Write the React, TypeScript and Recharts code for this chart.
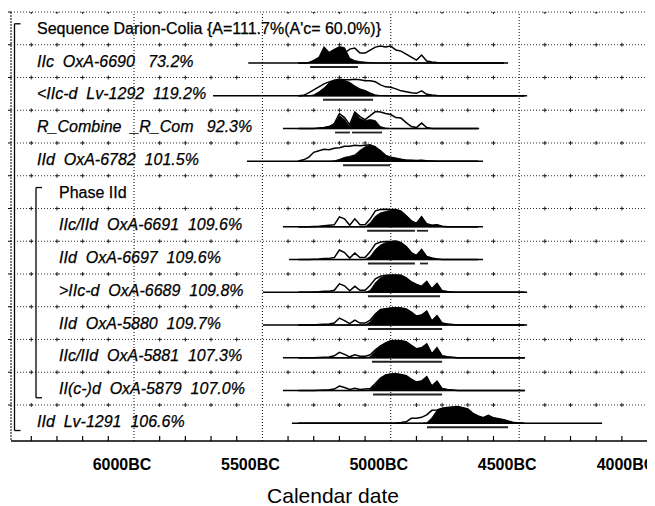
import { Area, ComposedChart, Line, ReferenceLine, Scatter, XAxis, YAxis } from 'recharts';

const CHART_W = 647;
const CHART_H = 498;
const PLOT_W = 644;
const FONT = '"Liberation Sans", Arial, Helvetica, sans-serif';

// calendar axis, negative = BC
const X_MIN = -6479;
const X_MAX = -3971;
const PX_PER_YEAR = PLOT_W / (X_MAX - X_MIN);

const AXIS_YEARS = [
  -6400, -6300, -6200, -6100, -6000, -5900, -5800, -5700, -5600, -5500, -5400, -5300, -5200,
  -5100, -5000, -4900, -4800, -4700, -4600, -4500, -4400, -4300, -4200, -4100, -4000,
];
const MAJOR_YEARS = [-6000, -5500, -5000, -4500, -4000];

// row boundaries, one unit per row, row 0 at the top
const ROW_EDGES = [1, 2, 3, 4, 5, 6, 7, 8, 9, 10, 11, 12, 13];

const ROW_LABELS = [
  "Sequence Darion-Colia {A=111.7%(A'c= 60.0%)}",
  'IIc  OxA-6690   73.2%',
  '<IIc-d  Lv-1292  119.2%',
  'R_Combine  _R_Com   92.3%',
  'IId  OxA-6782  101.5%',
  'Phase IId',
  'IIc/IId  OxA-6691  109.6%',
  'IId  OxA-6697  109.6%',
  '>IIc-d  OxA-6689  109.8%',
  'IId  OxA-5880  109.7%',
  'IIc/IId  OxA-5881  107.3%',
  'II(c-)d  OxA-5879  107.0%',
  'IId  Lv-1291  106.6%',
];
const ROW_DEPTH = [0, 0, 0, 0, 0, 1, 1, 1, 1, 1, 1, 1, 0];
const HEADER_ROWS = [0, 5];

const GROUPS = [
  { first: 0, last: 12, depth: 0 },
  { first: 5, last: 11, depth: 1 },
];

// density grid, years BC
const YEARS_BC = [
  5360, 5340, 5320, 5300, 5280, 5260, 5240, 5220, 5200, 5180, 5160, 5140, 5120, 5100, 5080,
  5060, 5040, 5020, 5000, 4980, 4960, 4940, 4920, 4900, 4880, 4860, 4840, 4820, 4800, 4780,
  4760, 4740, 4720, 4700, 4680, 4660, 4640, 4620, 4600, 4580, 4560, 4540, 4520, 4500, 4480,
];

// posterior (filled) and likelihood (outline) densities, relative scale
const POST_6690 = [0, 0, 0, 3, 6, 16.5, 11, 14, 16.5, 15.5, 5, 2.5, 1.5, 1, 0.5, 0.3, 0, 0, 0, 0, 0, 0, 0, 0, 0, 0, 0, 0, 0, 0, 0, 0, 0, 0, 0, 0, 0, 0, 0, 0, 0, 0, 0, 0, 0];
const LIKE_6690 = [0, 0, 0.5, 2, 4, 6, 7, 8, 9, 10, 14, 15, 10, 10, 13, 16, 17, 16, 17, 13, 12, 9, 6, 3, 8, 2, 1, 0.5, 0.3, 0, 0, 0, 0, 0, 0, 0, 0, 0, 0, 0, 0, 0, 0, 0, 0];

const POST_1292 = [0, 0, 0, 1, 4, 8, 13, 15.5, 16.5, 15.5, 13.5, 10, 7, 5.5, 3, 1, 0.3, 0, 0, 0, 0, 0, 0, 0, 0, 0, 0, 0, 0, 0, 0, 0, 0, 0, 0, 0, 0, 0, 0, 0, 0, 0, 0, 0, 0];
const LIKE_1292 = [0, 0.5, 3, 6, 9, 12, 14, 15.5, 16.5, 16, 16, 16.5, 16, 15, 15, 14, 11, 9, 8.5, 7, 5, 4, 3, 2.5, 5, 1.5, 0.8, 0.3, 0, 0, 0, 0, 0, 0, 0, 0, 0, 0, 0, 0, 0, 0, 0, 0, 0];

const POST_RCOM = [0, 0, 0, 0, 0.3, 1, 2, 4, 13, 9, 2, 16, 10, 8, 9, 8, 2, 0.5, 0, 0, 0, 0, 0, 0, 0, 0, 0, 0, 0, 0, 0, 0, 0, 0, 0, 0, 0, 0, 0, 0, 0, 0, 0, 0, 0];
const LIKE_RCOM = [0, 0, 0, 0, 0.5, 1, 2, 5, 15, 11, 4, 16.5, 12, 9, 13, 17, 16.5, 15, 14, 11, 10.5, 6, 2, 1, 5.5, 1, 0, 0, 0, 0, 0, 0, 0, 0, 0, 0, 0, 0, 0, 0, 0, 0, 0, 0, 0];

const POST_6782 = [0, 0, 0, 0, 0, 0, 0, 0.5, 2, 4, 5, 6.5, 11, 14.5, 16, 15, 10.5, 6, 4, 3, 2, 1.2, 1, 0.8, 1, 0.5, 0.3, 0, 0, 0, 0, 0, 0, 0, 0, 0, 0, 0, 0, 0, 0, 0, 0, 0, 0];
const LIKE_6782 = [0.3, 1.5, 4, 9, 10.5, 12, 11.5, 13, 13.5, 15, 15, 16, 15.5, 16, 16.5, 14, 10.5, 6, 4, 3, 2, 1.2, 1, 0.8, 1, 0.5, 0.3, 0, 0, 0, 0, 0, 0, 0, 0, 0, 0, 0, 0, 0, 0, 0, 0, 0, 0];

const POST_6691 = [0, 0, 0, 0, 0, 0, 0, 0, 0, 0, 0, 0, 0, 0, 4, 10.7, 14, 15.3, 16.7, 17.3, 15.7, 11, 6, 3.5, 10, 3, 1.5, 2, 0.5, 0, 0, 0, 0, 0, 0, 0, 0, 0, 0, 0, 0, 0, 0, 0, 0];
const LIKE_6691 = [0, 0, 0, 0.3, 0.5, 1, 1.5, 2, 10, 8, 1.5, 8, 2, 2, 8, 16, 17.3, 17.5, 17.3, 17.3, 15.7, 11, 6, 3.5, 10, 3, 1.5, 2, 0.5, 0, 0, 0, 0, 0, 0, 0, 0, 0, 0, 0, 0, 0, 0, 0, 0];

const POST_6697 = [0, 0, 0, 0, 0, 0, 0, 0, 0, 0, 0, 0, 0, 0, 3, 10, 14.5, 17, 18, 18.5, 17, 13, 7, 4, 10, 3, 1.5, 0.5, 0, 0, 0, 0, 0, 0, 0, 0, 0, 0, 0, 0, 0, 0, 0, 0, 0];
const LIKE_6697 = [0, 0, 0, 0.3, 0.5, 1, 1.2, 2, 9.5, 7, 1.5, 6.5, 2, 2, 8, 15.5, 17.5, 18, 18, 18.5, 17, 13, 7, 4, 10, 3, 1.5, 0.5, 0, 0, 0, 0, 0, 0, 0, 0, 0, 0, 0, 0, 0, 0, 0, 0, 0];

const POST_6689 = [0, 0, 0, 0, 0, 0, 0, 0, 0, 0, 0, 0, 0, 0, 2, 9.5, 14.5, 16.5, 17.3, 17.3, 17, 14.5, 10.5, 8, 6, 11, 3.5, 9, 1.5, 0.8, 0.3, 0, 0, 0, 0, 0, 0, 0, 0, 0, 0, 0, 0, 0, 0];
const LIKE_6689 = [0, 0, 0, 0.3, 0.5, 1, 1, 2, 8.5, 6.5, 1.5, 6, 2, 2, 7, 13.5, 16, 17, 17.3, 17.3, 17, 14.5, 10.5, 8, 6, 11, 3.5, 9, 1.5, 0.8, 0.3, 0, 0, 0, 0, 0, 0, 0, 0, 0, 0, 0, 0, 0, 0];

const POST_5880 = [0, 0, 0, 0, 0, 0, 0, 0, 0, 0, 0, 0, 0, 0, 3, 10, 15, 16.3, 17, 17.3, 17, 16, 13, 9, 10, 14, 4, 9.5, 2, 1, 0.5, 0, 0, 0, 0, 0, 0, 0, 0, 0, 0, 0, 0, 0, 0];
const LIKE_5880 = [0, 0, 0, 0, 0.5, 0.8, 1, 2, 7, 4.5, 1.5, 5, 2, 2, 5, 11, 15.5, 16.3, 17, 17.3, 17, 16, 13, 9, 10, 14, 4, 9.5, 2, 1, 0.5, 0, 0, 0, 0, 0, 0, 0, 0, 0, 0, 0, 0, 0, 0];

const POST_5881 = [0, 0, 0, 0, 0, 0, 0, 0, 0, 0, 0, 0, 0, 0, 1, 7, 11.5, 15, 17, 17.3, 17, 16, 12.5, 9, 10, 14, 4, 10, 2, 1, 0.5, 0, 0, 0, 0, 0, 0, 0, 0, 0, 0, 0, 0, 0, 0];
const LIKE_5881 = [0, 0, 0, 0, 0.3, 0.5, 0.8, 2, 5.5, 3.5, 1, 3, 1.5, 1.5, 3, 8, 12, 15, 17, 17.3, 17, 16, 12.5, 9, 10, 14, 4, 10, 2, 1, 0.5, 0, 0, 0, 0, 0, 0, 0, 0, 0, 0, 0, 0, 0, 0];

const POST_5879 = [0, 0, 0, 0, 0, 0, 0, 0, 0, 0, 0, 0, 0, 0, 0.8, 6, 12, 15.5, 16.5, 16.7, 16, 14.8, 11.5, 8.5, 9.5, 14, 4.5, 9.5, 2, 1, 0.5, 0, 0, 0, 0, 0, 0, 0, 0, 0, 0, 0, 0, 0, 0];
const LIKE_5879 = [0, 0, 0, 0, 0.3, 0.5, 0.8, 1.5, 4.5, 3, 1, 2.3, 1, 1.5, 2, 7, 12.5, 15.5, 16.5, 16.7, 16, 14.8, 11.5, 8.5, 9.5, 14, 4.5, 9.5, 2, 1, 0.5, 0, 0, 0, 0, 0, 0, 0, 0, 0, 0, 0, 0, 0, 0];

const POST_1291 = [0, 0, 0, 0, 0, 0, 0, 0, 0, 0, 0, 0, 0, 0, 0, 0, 0, 0, 0, 0, 0, 0, 0, 0, 0, 0.5, 5.5, 13, 15, 15.7, 16.3, 16.7, 15.7, 14.3, 10, 7.3, 5.7, 8, 5.5, 4.5, 3.5, 2, 0.7, 0.3, 0];
const LIKE_1291 = [0, 0, 0, 0, 0, 0, 0, 0, 0, 0, 0, 0, 0, 0, 0, 0, 0, 0, 0, 0.3, 0.8, 1.5, 5, 5, 6, 8.5, 13, 13.3, 15, 15.7, 16.3, 16.7, 15.7, 14.3, 10, 7.3, 5.7, 8, 5.5, 4.5, 3.5, 2, 0.7, 0.3, 0];

// calculation span of each date, years BC [from, to]
const SPAN_6690 = [5555, 4543];
const SPAN_1292 = [5692, 4469];
const SPAN_RCOM = [5420, 4656];
const SPAN_6782 = [5560, 4641];
const SPAN_6691 = [5420, 4641];
const SPAN_6697 = [5396, 4641];
const SPAN_6689 = [5498, 4469];
const SPAN_5880 = [5498, 4469];
const SPAN_5881 = [5420, 4477];
const SPAN_5879 = [5420, 4477];
const SPAN_1291 = [5385, 4177];

// 95.4% highest posterior density ranges, years BC
const HPD_6690 = [[5314, 5128]];
const HPD_1292 = [[5264, 5069]];
const HPD_RCOM = [[5217, 5159], [5151, 5034]];
const HPD_6782 = [[5186, 5003]];
const HPD_6691 = [[5092, 4906], [4898, 4855]];
const HPD_6697 = [[5089, 4906], [4886, 4855]];
const HPD_6689 = [[5089, 4808]];
const HPD_5880 = [[5089, 4800]];
const HPD_5881 = [[5073, 4800]];
const HPD_5879 = [[5069, 4800]];
const HPD_1291 = [[4859, 4543]];

const DISTS = [
  { row: 1, post: POST_6690, like: LIKE_6690, span: SPAN_6690, hpd: HPD_6690 },
  { row: 2, post: POST_1292, like: LIKE_1292, span: SPAN_1292, hpd: HPD_1292 },
  { row: 3, post: POST_RCOM, like: LIKE_RCOM, span: SPAN_RCOM, hpd: HPD_RCOM },
  { row: 4, post: POST_6782, like: LIKE_6782, span: SPAN_6782, hpd: HPD_6782 },
  { row: 6, post: POST_6691, like: LIKE_6691, span: SPAN_6691, hpd: HPD_6691 },
  { row: 7, post: POST_6697, like: LIKE_6697, span: SPAN_6697, hpd: HPD_6697 },
  { row: 8, post: POST_6689, like: LIKE_6689, span: SPAN_6689, hpd: HPD_6689 },
  { row: 9, post: POST_5880, like: LIKE_5880, span: SPAN_5880, hpd: HPD_5880 },
  { row: 10, post: POST_5881, like: LIKE_5881, span: SPAN_5881, hpd: HPD_5881 },
  { row: 11, post: POST_5879, like: LIKE_5879, span: SPAN_5879, hpd: HPD_5879 },
  { row: 12, post: POST_1291, like: LIKE_1291, span: SPAN_1291, hpd: HPD_1291 },
];

// one density step in row units
const DENSITY_UNIT = 1 / 32.75;

const rowTop = (k: number) => 13 - k;
const baseY = (k: number) => rowTop(k) - 0.56;

const chartData = YEARS_BC.map((yr, i) => {
  const pt: Record<string, any> = { x: -yr };
  DISTS.forEach((d) => {
    const inside = yr <= d.span[0] && yr >= d.span[1];
    const b = baseY(d.row);
    pt[`post${d.row}`] = inside ? [b, b + d.post[i] * DENSITY_UNIT] : null;
    pt[`like${d.row}`] = inside ? b + d.like[i] * DENSITY_UNIT : null;
  });
  return pt;
});

const labelPoints = ROW_LABELS.map((text, k) => ({
  x: X_MIN,
  y: rowTop(k) - 0.5,
  text,
  depth: ROW_DEPTH[k],
  header: HEADER_ROWS.includes(k),
}));

const crossPoints = ROW_EDGES.flatMap((e) =>
  AXIS_YEARS.filter((v) => !MAJOR_YEARS.includes(v)).map((v) => ({ x: v, y: e })),
);

function RowLabel(props: any) {
  const { cx, cy } = props;
  const p = props.payload ?? props;
  return (
    <text
      x={cx + 26 + 22 * p.depth}
      y={cy + 5.5}
      fontFamily={FONT}
      fontSize={16}
      fontStyle={p.header ? 'normal' : 'italic'}
      fill="#000"
      stroke="#000"
      strokeWidth={0.25}
      xmlSpace="preserve"
      style={{ whiteSpace: 'pre' }}
    >
      {p.text}
    </text>
  );
}

function GridCross(props: any) {
  const { cx, cy } = props;
  return (
    <g stroke="#222" strokeWidth={1}>
      <line x1={cx} x2={cx} y1={cy - 2} y2={cy + 2} />
      <line x1={cx - 2} x2={cx + 2} y1={cy} y2={cy} />
    </g>
  );
}

function YearTick(props: any) {
  const { x, y, payload } = props;
  const v = payload.value;
  if (MAJOR_YEARS.includes(v)) {
    return (
      <text
        x={Math.min(x - 12, CHART_W - 29)}
        y={y + 29}
        textAnchor="middle"
        fontFamily={FONT}
        fontSize={16}
        fontWeight="bold"
        fill="#000"
      >
        {`${-v}BC`}
      </text>
    );
  }
  return <line x1={x} x2={x} y1={y} y2={y - 5} stroke="#000" strokeWidth={1.2} />;
}

export default function App() {
  return (
    <div style={{ width: CHART_W, height: CHART_H, fontFamily: FONT }}>
      <ComposedChart
        width={CHART_W}
        height={CHART_H}
        data={chartData}
        margin={{ top: 4, right: 0, bottom: 0, left: 0 }}
      >
        <XAxis
          type="number"
          dataKey="x"
          domain={[X_MIN, X_MAX]}
          allowDataOverflow
          ticks={AXIS_YEARS}
          interval={0}
          tick={<YearTick />}
          tickLine={false}
          tickSize={0}
          tickMargin={0}
          axisLine={{ stroke: '#000', strokeWidth: 1.5 }}
          height={65}
          label={{
            value: 'Calendar date',
            position: 'insideBottom',
            offset: 3,
            fontSize: 21,
            fontFamily: FONT,
            fill: '#000',
          }}
        />
        <YAxis
          type="number"
          dataKey="y"
          domain={[-0.1, 13]}
          allowDataOverflow
          ticks={ROW_EDGES}
          interval={0}
          width={3}
          tickSize={3}
          tickFormatter={() => ''}
          tickLine={{ stroke: '#000' }}
          axisLine={{ stroke: '#000', strokeDasharray: '2 1' }}
        />

        {ROW_EDGES.map((e) => (
          <ReferenceLine key={`h${e}`} y={e} stroke="#333" strokeDasharray="1 2" />
        ))}
        {MAJOR_YEARS.map((v) => (
          <ReferenceLine key={`v${v}`} x={v} stroke="#000" strokeDasharray="1 2" />
        ))}
        <Scatter
          data={crossPoints}
          dataKey="y"
          shape={GridCross}
          isAnimationActive={false}
          legendType="none"
        />

        {GROUPS.map((g) => {
          const bx = X_MIN + (3.5 + 21.5 * g.depth) / PX_PER_YEAR;
          const tip = bx + 6 / PX_PER_YEAR;
          const top = rowTop(g.first) - 0.36;
          const bottom = rowTop(g.last) - 1 + 0.22;
          return [
            <ReferenceLine
              key={`b${g.first}`}
              segment={[{ x: bx, y: top }, { x: bx, y: bottom }]}
              stroke="#000"
              strokeWidth={1.3}
            />,
            <ReferenceLine
              key={`bt${g.first}`}
              segment={[{ x: bx, y: top }, { x: tip, y: top }]}
              stroke="#000"
              strokeWidth={1.3}
            />,
            <ReferenceLine
              key={`bb${g.first}`}
              segment={[{ x: bx, y: bottom }, { x: tip, y: bottom }]}
              stroke="#000"
              strokeWidth={1.3}
            />,
          ];
        })}

        {DISTS.map((d) => (
          <Line
            key={`base${d.row}`}
            data={[
              { x: -d.span[0], y: baseY(d.row) },
              { x: -d.span[1], y: baseY(d.row) },
            ]}
            dataKey="y"
            type="linear"
            stroke="#000"
            strokeWidth={1.5}
            dot={false}
            activeDot={false}
            isAnimationActive={false}
            legendType="none"
          />
        ))}
        {DISTS.map((d) => (
          <Line
            key={`like${d.row}`}
            dataKey={`like${d.row}`}
            type="linear"
            stroke="#000"
            strokeWidth={1.5}
            dot={false}
            activeDot={false}
            isAnimationActive={false}
            legendType="none"
          />
        ))}
        {DISTS.map((d) => (
          <Area
            key={`post${d.row}`}
            dataKey={`post${d.row}`}
            type="linear"
            stroke="#000"
            strokeWidth={0.8}
            fill="#000"
            fillOpacity={1}
            dot={false}
            activeDot={false}
            isAnimationActive={false}
            legendType="none"
          />
        ))}
        {DISTS.flatMap((d) =>
          d.hpd.map((r, j) => (
            <Line
              key={`hpd${d.row}-${j}`}
              data={[
                { x: -r[0], y: baseY(d.row) - 0.12 },
                { x: -r[1], y: baseY(d.row) - 0.12 },
              ]}
              dataKey="y"
              type="linear"
              stroke="#222"
              strokeWidth={1.8}
              dot={false}
              activeDot={false}
              isAnimationActive={false}
              legendType="none"
            />
          )),
        )}

        <Scatter
          data={labelPoints}
          dataKey="y"
          shape={RowLabel}
          isAnimationActive={false}
          legendType="none"
        />
      </ComposedChart>
    </div>
  );
}
